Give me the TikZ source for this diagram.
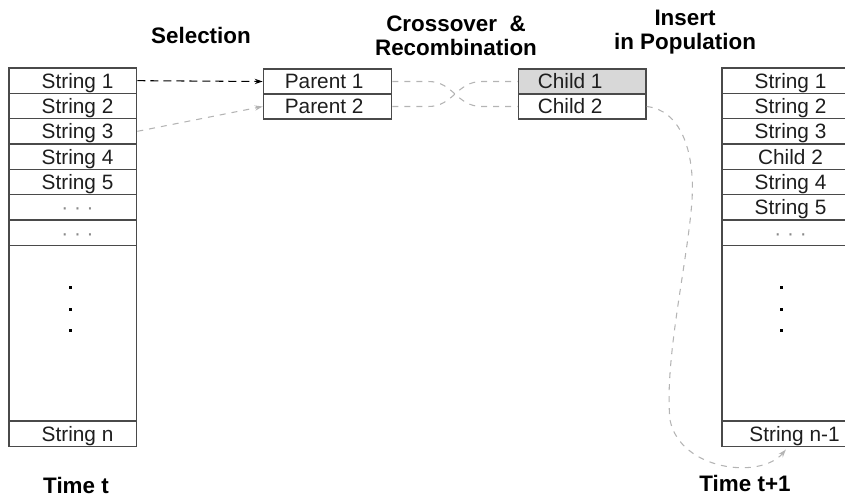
\documentclass[tikz,border=0pt]{standalone}
\usepackage{fontspec}
\setmainfont{Liberation Sans}
\usetikzlibrary{arrows.meta}
\definecolor{boxc}{HTML}{4A4A4A}
\definecolor{dashgray}{HTML}{B4B4B4}
\definecolor{fillgray}{HTML}{D8D8D8}
\definecolor{txt}{HTML}{1E1E1E}
\definecolor{dotc}{HTML}{8A8A8A}
\begin{document}
\begin{tikzpicture}[x=0.75pt,y=-0.75pt,
  cell/.style={draw=boxc, line width=0.9pt, inner sep=0pt, text=txt,
    font=\fontsize{15.6}{18}\selectfont, text height=11.2pt, text depth=0pt,
    minimum width=95.8pt, minimum height=19pt},
  lcell/.style={cell, execute at begin node={\kern7pt}},
  bigcell/.style={draw=boxc, line width=0.9pt, minimum width=95.8pt, minimum height=132pt},
  pcell/.style={cell, minimum width=96.3pt, minimum height=18.75pt, execute at end node={\kern5pt}},
  ccell/.style={cell, minimum width=95.8pt, minimum height=18.75pt, execute at end node={\kern18pt}},
  dotrow/.style={lcell, text=dotc},
  title/.style={font=\bfseries\fontsize{16.8}{17.8}\selectfont, text=black, inner sep=0pt, align=center},
  blackdash/.style={draw=black, line width=0.8pt, dash pattern=on 6pt off 3.75pt,
    -{Stealth[open, length=6pt, width=4pt]}},
  graydash/.style={draw=dashgray, line width=0.8pt, dash pattern=on 4.5pt off 4.5pt},
  grayarrow/.style={graydash, -{Stealth[open, length=6pt, width=4pt]}},
  bigdot/.style={fill=black}
]
\useasboundingbox (0,0) rectangle (845,497);
\clip (0,0) rectangle (845,497);

% titles
\node[title, anchor=base] (tsel) at (201,43) {Selection};
\node[title, anchor=base] (tcross) at (456,55) {Crossover\ \ \&\\Recombination};
\node[title, anchor=base] (tins) at (685,49.3) {Insert\\in Population};
\node[title, anchor=base] (ttime) at (76,493) {Time t};
\node[title, anchor=base] (ttime1) at (745,491) {Time t+1};

% left column (time t)
\node[lcell] (L1) at (72.85,80.67) {String 1};
\node[lcell] (L2) at (72.85,106) {String 2};
\node[lcell] (L3) at (72.85,131.33) {String 3};
\node[lcell] (L4) at (72.85,156.67) {String 4};
\node[lcell] (L5) at (72.85,182) {String 5};
\node[dotrow] (L6) at (72.85,207.33) {· · ·};
\node[dotrow] (L7) at (72.85,232.67) {· · ·};
\node[bigcell] (LB) at (72.85,333.33) {};
\node[lcell] (Ln) at (72.85,433.67) {String n};
\fill[bigdot] (68.6,285.6) rectangle ++(3,3);
\fill[bigdot] (68.6,307.6) rectangle ++(3,3);
\fill[bigdot] (68.6,328.6) rectangle ++(3,3);

% parents
\node[pcell] (P1) at (327.5,81.5) {Parent 1};
\node[pcell] (P2) at (327.5,106.5) {Parent 2};

% children
\node[ccell, fill=fillgray] (C1) at (582.2,81.5) {Child 1};
\node[ccell] (C2) at (582.2,106.5) {Child 2};

% right column (time t+1)
\node[lcell] (R1) at (785.85,80.67) {String 1};
\node[lcell] (R2) at (785.85,106) {String 2};
\node[lcell] (R3) at (785.85,131.33) {String 3};
\node[lcell] (R4) at (785.85,156.67) {Child 2};
\node[lcell] (R5) at (785.85,182) {String 4};
\node[lcell] (R6) at (785.85,207.33) {String 5};
\node[dotrow] (R7) at (785.85,232.67) {· · ·};
\node[bigcell] (RB) at (785.85,333.33) {};
\node[lcell, execute at begin node={\kern6pt}] (Rn) at (785.85,433.67) {String n-1};
\fill[bigdot] (780.3,285.6) rectangle ++(3,3);
\fill[bigdot] (780.3,307.6) rectangle ++(3,3);
\fill[bigdot] (780.3,328.6) rectangle ++(3,3);

% selection
\draw[blackdash] (L1.east) -- (P1.west);
\draw[grayarrow] (L3.east) -- (P2.west);

% crossover
\draw[graydash] (P1.east) -- ([xshift=27pt]P1.east)
  .. controls ([xshift=46pt]P1.east) and ([xshift=-46pt]C2.west) ..
  ([xshift=-27pt]C2.west) -- (C2.west);
\draw[graydash] (P2.east) -- ([xshift=27pt]P2.east)
  .. controls ([xshift=46pt]P2.east) and ([xshift=-46pt]C1.west) ..
  ([xshift=-27pt]C1.west) -- (C1.west);

% insertion
\draw[grayarrow] (C2.east) .. controls (680,110) and (695,150) .. (692,200)
  .. controls (688,260) and (664,360) .. (670,420)
  .. controls (680,470) and (760,480) .. ([yshift=-2pt]Rn.south);
\end{tikzpicture}
\end{document}
